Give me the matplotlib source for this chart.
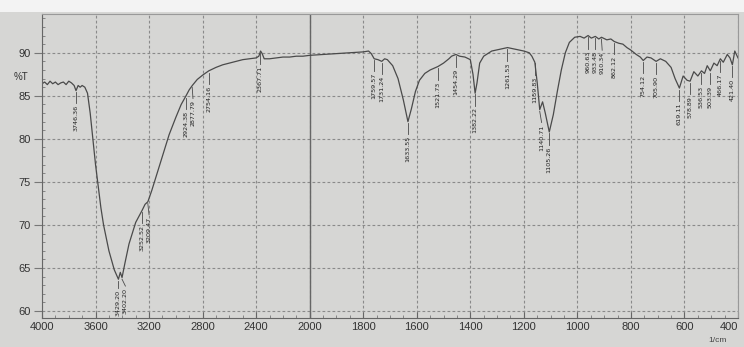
import numpy as np
import matplotlib.pyplot as plt
from matplotlib.patches import Rectangle
from matplotlib.ticker import FixedLocator

# FTIR transmittance spectrum
wavenumber = [4000, 3980, 3960, 3940, 3920, 3900, 3880, 3860, 3840, 3820, 3800, 3780, 3760,
              3746, 3730, 3715, 3700, 3680, 3660, 3640, 3620, 3600, 3580, 3560, 3540, 3500,
              3460, 3429, 3415, 3402, 3380, 3350, 3300, 3252, 3230, 3209, 3180, 3150, 3100,
              3050, 3000, 2960, 2924, 2900, 2877, 2840, 2800, 2754, 2700, 2650, 2600, 2550,
              2500, 2450, 2400, 2380, 2367, 2355, 2340, 2300, 2250, 2200, 2150, 2100, 2050,
              2000, 1950, 1900, 1850, 1800, 1780, 1770, 1759, 1745, 1731, 1720, 1710, 1690,
              1670, 1650, 1640, 1633, 1620, 1605, 1590, 1570, 1550, 1521, 1500, 1480, 1470,
              1454, 1440, 1420, 1400, 1390, 1382, 1375, 1365, 1350, 1320, 1290, 1261, 1230,
              1200, 1180, 1170, 1159, 1150, 1140.7, 1130, 1120, 1105, 1090, 1075, 1060, 1045,
              1030, 1010, 990, 975, 960, 948, 933, 920, 910, 890, 875, 862, 845, 830, 815,
              800, 780, 765, 754, 740, 725, 705.9, 690, 670, 650, 635, 619, 605, 590, 578.9,
              565, 550, 536.5, 525, 515, 503.4, 490, 478, 466, 455, 440, 430, 421, 412, 400]
transmittance = [86.4, 86.6, 86.3, 86.7, 86.4, 86.6, 86.3, 86.5, 86.6, 86.3, 86.7, 86.5, 86.2,
                 85.6, 86.2, 86.0, 86.2, 86.0, 85.3, 83.0, 80.0, 77.0, 74.5, 72.0, 70.0, 67.0,
                 64.8, 63.7, 64.5, 63.9, 65.6, 67.8, 70.3, 71.7, 72.4, 72.7, 74.0, 75.5, 78.0,
                 80.5, 82.5, 84.0, 85.0, 85.7, 86.2, 86.9, 87.4, 87.9, 88.3, 88.6, 88.8, 89.0,
                 89.2, 89.3, 89.4, 89.6, 90.2, 89.9, 89.3, 89.3, 89.4, 89.5, 89.5, 89.6, 89.6,
                 89.7, 89.8, 89.9, 90.0, 90.1, 90.2, 89.9, 89.3, 89.2, 89.0, 89.3, 89.2, 88.5,
                 87.0, 84.5, 83.0, 82.0, 83.5, 85.5, 86.8, 87.6, 88.0, 88.4, 88.8, 89.3, 89.6,
                 89.8, 89.6, 89.5, 89.2, 87.5, 85.3, 86.5, 88.8, 89.6, 90.2, 90.4, 90.6, 90.4,
                 90.2, 90.0, 89.6, 88.9, 86.5, 83.4, 84.3, 83.0, 80.8, 82.8, 85.5, 88.0, 90.0,
                 91.2, 91.8, 91.9, 91.7, 92.0, 91.7, 91.9, 91.6, 91.8, 91.5, 91.6, 91.3, 91.1,
                 91.0, 90.6, 90.3, 89.8, 89.5, 89.1, 89.5, 89.4, 89.0, 89.3, 89.0, 88.3, 87.0,
                 85.9, 87.3, 86.8, 86.7, 87.8, 87.3, 87.9, 87.6, 88.5, 87.9, 88.8, 88.5, 89.3,
                 88.9, 89.8, 89.4, 88.6, 90.2, 89.4]

peak_labels = ['3746.36', '3429.20', '3402.20', '3252.52', '3209.47', '2924.38', '2877.79',
               '2754.16', '2367.71', '1759.57', '1731.24', '1633.55', '1521.73', '1454.29',
               '1382.22', '1261.53', '1159.83', '1140.71', '1105.26', '960.63', '933.48',
               '910.34', '862.12', '754.12', '705.90', '619.11', '578.89', '536.53', '503.39',
               '466.17', '421.40']

x_major = [4000, 3600, 3200, 2800, 2400, 2000, 1800, 1600, 1400, 1200, 1000, 800, 600, 400]
y_major = [60, 65, 70, 75, 80, 85, 90]

paper = '#d6d6d4'
ink = '#4a4a4a'
plt.rcParams['font.family'] = ['Liberation Sans', 'DejaVu Sans']


# wavenumber axis is compressed by half above 2000 1/cm
def fwd(x):
    x = np.asarray(x, dtype=float)
    return np.where(x > 2000, 2000 + (x - 2000) * 0.5, x)


def inv(u):
    u = np.asarray(u, dtype=float)
    return np.where(u > 2000, 2000 + (u - 2000) * 2.0, u)


fig = plt.figure(figsize=(7.44, 3.47), dpi=100, facecolor=paper)
fig.patches.append(Rectangle((0, 1 - 12 / 347), 1, 12 / 347, transform=fig.transFigure,
                             facecolor='#f3f3f3', edgecolor='none', zorder=0))
ax = fig.add_axes([42 / 744, 1 - 318 / 347, 696 / 744, 304 / 347])
ax.set_facecolor(paper)

ax.set_xscale('function', functions=(fwd, inv))
ax.set_xlim(4000, 400)
ax.set_ylim(59.2, 94.5)

ax.set_xticks(x_major)
ax.set_xticklabels([str(v) for v in x_major])
ax.get_xticklabels()[-1].set_ha('right')
minor_x = [v for v in list(range(450, 2000, 50)) + list(range(2100, 4000, 100)) if v not in x_major]
ax.xaxis.set_minor_locator(FixedLocator(minor_x))
ax.set_yticks(y_major)
ax.yaxis.set_minor_locator(FixedLocator([v for v in range(60, 95) if v not in y_major]))

ax.tick_params(axis='x', which='major', direction='in', length=4, color='#666',
               labelsize=8, labelcolor='#333', pad=3)
ax.tick_params(axis='x', which='minor', direction='in', length=2.5, color='#777')
ax.tick_params(axis='y', which='major', direction='out', length=6, color='#777',
               labelsize=8, labelcolor='#333', pad=2)
ax.tick_params(axis='y', which='minor', direction='in', length=2.5, color='#777')

ax.grid(which='major', linestyle=(0, (2.5, 2)), color='#8a8a8a', linewidth=0.8)
ax.axvline(2000, color='#666', linewidth=1.0)
for side in ['left', 'bottom']:
    ax.spines[side].set_color('#666')
for side in ['top', 'right']:
    ax.spines[side].set_color('#999')

ax.plot(wavenumber, transmittance, color=ink, linewidth=0.9)

# peak labels hang below the curve on a short leader, nudged apart when crowded
label_font = ['Liberation Sans Narrow', 'DejaVu Sans']
to_px = ax.transData
to_data = ax.transData.inverted()
last_px = -1e9
for lab in peak_labels:
    w = float(lab)
    t = np.interp(w, wavenumber[::-1], transmittance[::-1])
    px, py = to_px.transform((w, t))
    px = max(px, last_px + 7)
    last_px = px
    wl = to_data.transform((px, py))[0]
    drop = 1.0 if t < 66 else 1.5
    ax.plot([w, wl], [t - 0.2, t - drop], color=ink, linewidth=0.6)
    ax.text(wl, t - drop - 0.2, lab, rotation=90, ha='center', va='top', fontsize=4.6,
            family=label_font, color='#222')

fig.text(0.018, 1 - 77 / 347, '%T', fontsize=7, color='#333', va='center')
fig.text(0.965, 1 - 341 / 347, '1/cm', fontsize=6, color='#444', ha='center', va='center')

fig.savefig('out.png', dpi=100, facecolor=paper)
